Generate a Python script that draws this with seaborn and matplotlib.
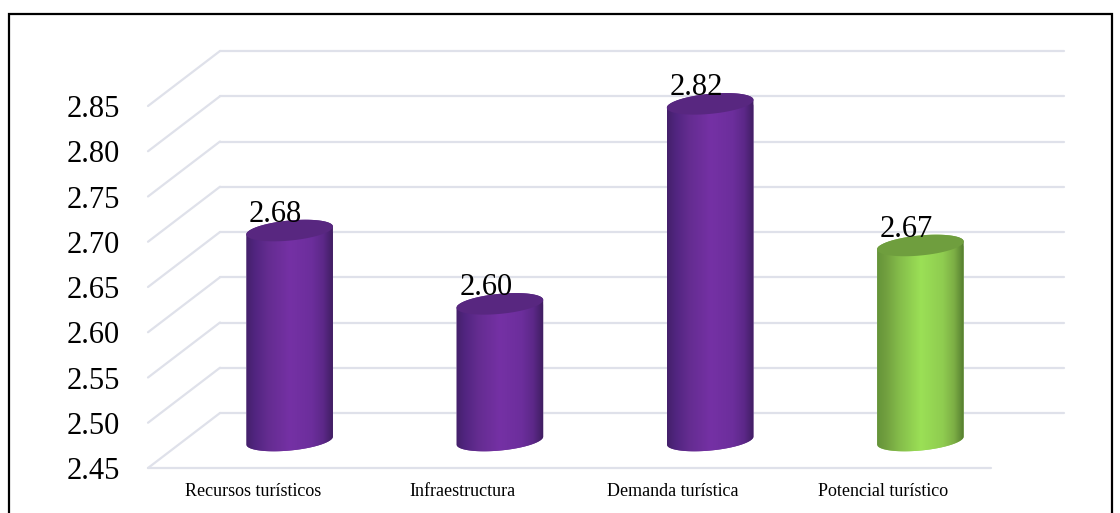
# --- 3D style cylinder chart: potencial turistico ---
import numpy as np
import matplotlib
matplotlib.use('Agg')
import matplotlib.pyplot as plt
from matplotlib.colors import LinearSegmentedColormap
from matplotlib.lines import Line2D
from matplotlib.patches import Polygon, Rectangle
from matplotlib.transforms import IdentityTransform
import seaborn as sns

categories = ['Recursos turísticos', 'Infraestructura', 'Demanda turística', 'Potencial turístico']
values = [2.682, 2.601, 2.822, 2.6655]
labels = ['2.68', '2.60', '2.82', '2.67']
y_ticks = [2.45, 2.50, 2.55, 2.60, 2.65, 2.70, 2.75, 2.80, 2.85]
y_tick_labels = ['2.45', '2.50', '2.55', '2.60', '2.65', '2.70', '2.75', '2.80', '2.85']

STOPS = [0, 0.1, 0.25, 0.5, 0.75, 0.88, 0.95, 1]
PURPLE = ['#44206A', '#512580', '#642C90', '#7531A5', '#6C2E9C', '#5C2888', '#4A2270', '#3E1D5E']
GREEN = ['#659439', '#719F3F', '#84BC4A', '#9BE056', '#8FCC50', '#7CAE45', '#638F37', '#4F762B']
shades = [PURPLE, PURPLE, PURPLE, GREEN]
tops = ['#582780', '#582780', '#582780', '#6F9E3E']
GRID = '#DFE1EA'

W, H = 1120, 513
sns.set_theme(style='white')
plt.rcParams['font.family'] = ['Liberation Serif', 'DejaVu Serif']

fig = plt.figure(figsize=(W / 100, H / 100), dpi=100, facecolor='white')


def plane(left, right, bottom, top):
    # axes placed from pixel positions of the picture
    a = fig.add_axes([left / W, 1 - bottom / H, (right - left) / W, (bottom - top) / H])
    a.set_xlim(-0.5, 3.5)
    a.set_ylim(2.45, 2.85)
    a.patch.set_alpha(0)
    sns.despine(ax=a, left=True, bottom=True)
    return a


# pixel -> data sizes on the middle plane
ux = 4 / (1025.5 - 184.5)
uy = 0.40 / (440.5 - 78.5)
room = 20  # px under the base, the image is cut at the axes box

# three planes: front (axis + labels), back wall, middle (cylinders)
ax_front = plane(148, 991, 468, 106)
ax_back = plane(220, 1064, 413, 51)
ax = plane(184.5, 1025.5, 440.5 + room, 78.5)

ax_front.set_xlim(-0.5, 3.515)
ax_front.set_yticks(y_ticks, y_tick_labels, fontsize=22, color='black')
ax_front.set_xticks(range(4), categories, fontsize=13, color='black')
ax_front.tick_params(axis='y', length=0, pad=20)
ax_front.tick_params(axis='x', length=0, pad=11)
ax_front.axhline(2.45, color=GRID, lw=1.6, clip_on=False)

ax_back.set_xticks([])
ax_back.set_yticks([])
for t in y_ticks:
    ax_back.axhline(t, color=GRID, lw=1.6, clip_on=False)
    p0 = ax_front.transData.transform((-0.5, t))
    p1 = ax_back.transData.transform((-0.5, t))
    fig.add_artist(Line2D([p0[0], p1[0]], [p0[1], p1[1]], color=GRID, lw=1.6,
                          transform=IdentityTransform()))

sns.barplot(x=categories, y=values, hue=categories, palette=[s[3] for s in shades],
            width=0.414, legend=False, ax=ax)
ax.set_xticks([])
ax.set_yticks([])
ax.set_xlabel('')
ax.set_ylabel('')
ax.set_xlim(-0.5, 3.5)
ax.set_ylim(2.45 - room * uy, 2.85)

tilt = np.deg2rad(5.5)
minor = 10


def ellipse_pts(cx, cy, half, start, stop):
    th = np.linspace(start, stop, 80)
    ex = half * np.cos(th)
    ey = minor * np.sin(th)
    px = ex * np.cos(tilt) - ey * np.sin(tilt)
    py = ex * np.sin(tilt) + ey * np.cos(tilt)
    return np.column_stack([cx + px * ux, cy + py * uy])


for i, bar in enumerate(ax.patches):
    x0, wd = bar.get_x(), bar.get_width()
    cx = x0 + wd / 2
    half = wd / 2 / ux
    top_y, base_y = values[i], 2.45
    # body: lower arc of the base ellipse plus the sides up to the top ellipse
    low = ellipse_pts(cx, base_y, half, np.pi, 2 * np.pi)
    rim = ellipse_pts(cx, top_y, half, 0, np.pi)
    body = Polygon(np.vstack([low, rim]), closed=True, transform=ax.transData)

    cmap = LinearSegmentedColormap.from_list(f'cyl{i}', list(zip(STOPS, shades[i])))
    bar.set_clip_path(body)
    im = ax.imshow(np.linspace(0, 1, 256)[None, :], cmap=cmap, aspect='auto', zorder=3,
                   interpolation='bilinear',
                   extent=[x0, x0 + wd, base_y - room * uy, top_y + room * uy])
    im.set_clip_path(body)

    cap = ellipse_pts(cx, top_y, half, 0, 2 * np.pi)
    ax.add_patch(Polygon(cap, closed=True, facecolor=tops[i], edgecolor='none', zorder=4, clip_on=False))

    ax.annotate(labels[i], (cx, top_y), xytext=(-10, 11.7), textcoords='offset points',
                ha='center', va='center', fontsize=22, color='black', zorder=5,
                annotation_clip=False)

# imshow resets limits
ax.set_xlim(-0.5, 3.5)
ax.set_ylim(2.45 - room * uy, 2.85)

# black frame, its bottom edge falls outside the picture
fig.add_artist(Rectangle((9 / W, -0.05), (1112 - 9) / W, 1.05 - 14 / H, fill=False,
                         edgecolor='black', lw=1.6, transform=fig.transFigure))

fig.savefig('out.png', dpi=100)
